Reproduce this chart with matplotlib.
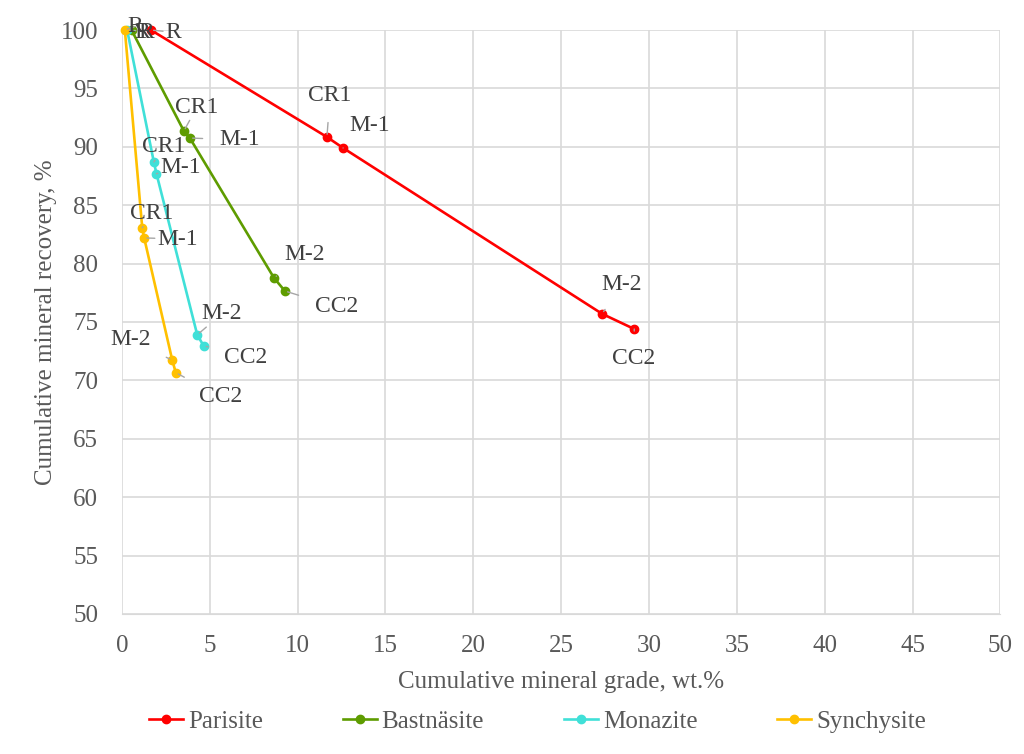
import matplotlib.pyplot as plt

plt.rcParams['font.family'] = ['Liberation Serif', 'DejaVu Serif']

stages = ['R', 'CR1', 'M-1', 'M-2', 'CC2']

parisite_grade = [1.65, 11.67, 12.59, 27.33, 29.16]
parisite_rec = [100.0, 90.84, 89.9, 75.7, 74.4]
bastnasite_grade = [0.55, 3.53, 3.87, 8.66, 9.28]
bastnasite_rec = [100.0, 91.35, 90.75, 78.77, 77.65]
monazite_grade = [0.3, 1.82, 1.97, 4.29, 4.65]
monazite_rec = [100.0, 88.7, 87.7, 73.9, 72.97]
synchysite_grade = [0.17, 1.16, 1.27, 2.87, 3.07]
synchysite_rec = [100.0, 83.07, 82.2, 71.72, 70.66]

# label text positions (data coords)
parisite_lbl = [(2.95, 99.8), (11.85, 94.4), (14.1, 91.8), (28.45, 78.2), (29.15, 71.9)]
bastnasite_lbl = [(1.4, 99.8), (4.27, 93.4), (6.7, 90.6), (10.4, 80.8), (12.2, 76.3)]
monazite_lbl = [(1.15, 99.8), (2.39, 90.0), (3.36, 88.2), (5.69, 75.7), (7.06, 72.0)]
synchysite_lbl = [(0.75, 100.3), (1.71, 84.3), (3.19, 82.1), (0.51, 73.5), (5.64, 68.6)]

series = [
    ('Parisite', parisite_grade, parisite_rec, parisite_lbl, '#ff0000'),
    ('Bastnäsite', bastnasite_grade, bastnasite_rec, bastnasite_lbl, '#5e9c00'),
    ('Monazite', monazite_grade, monazite_rec, monazite_lbl, '#40e0d8'),
    ('Synchysite', synchysite_grade, synchysite_rec, synchysite_lbl, '#ffc000'),
]

fig = plt.figure(figsize=(10.24, 7.54), dpi=100)
ax = fig.add_axes([0.119, 0.1857, 0.858, 0.7745])

for name, gx, gy, lbl, col in series:
    ax.plot(gx, gy, '-o', color=col, lw=1.9, ms=6, label=name, zorder=3, clip_on=False)
    for st, x, y, (tx, ty) in zip(stages, gx, gy, lbl):
        ax.annotate(st, xy=(x, y), xytext=(tx, ty), ha='center', va='center',
                    fontsize=17, color='#404040',
                    arrowprops=dict(arrowstyle='-', color='#a6a6a6', lw=1,
                                    shrinkA=10, shrinkB=2),
                    zorder=4, annotation_clip=False)

ax.set_xlim(0, 50)
ax.set_ylim(50, 100)
ax.set_xticks(range(0, 51, 5))
ax.set_yticks(range(50, 101, 5))
ax.grid(True, color='#d9d9d9', lw=1.2)
ax.set_axisbelow(True)
ax.tick_params(length=0, labelsize=18, colors='#595959')
ax.tick_params(axis='x', pad=15)
ax.tick_params(axis='y', pad=17)
for s in ax.spines.values():
    s.set_visible(False)
ax.spines['bottom'].set_visible(True)
ax.spines['bottom'].set_color('#d9d9d9')

ax.set_xlabel('Cumulative mineral grade, wt.%', fontsize=18, color='#595959', labelpad=10)
ax.set_ylabel('Cumulative mineral recovery, %', fontsize=18, color='#595959', labelpad=3)

fig.legend(loc='center', bbox_to_anchor=(0.525, 0.043), ncol=4, frameon=False,
           fontsize=18, labelcolor='#595959', columnspacing=3.2, handlelength=1.35,
           handletextpad=0.2)

fig.savefig('out.png', dpi=100)
